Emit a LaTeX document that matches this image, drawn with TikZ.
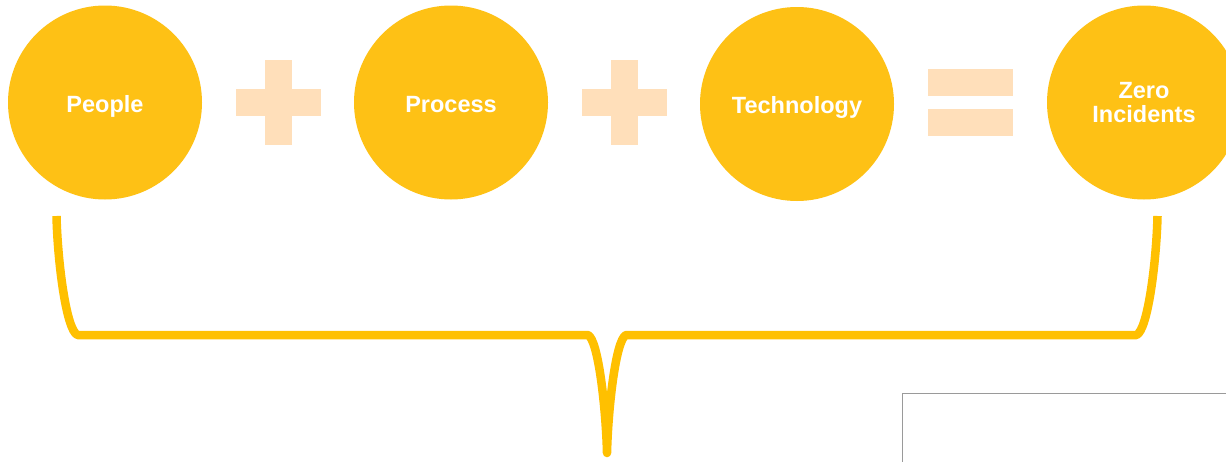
\documentclass[tikz,border=0pt]{standalone}
\usepackage{fontspec}
\setmainfont{Liberation Sans}
\definecolor{discgold}{HTML}{FEC115}
\definecolor{signpeach}{HTML}{FFDFBA}
\definecolor{bracegold}{HTML}{FFC000}
\definecolor{framegrey}{HTML}{9A9A9A}
\begin{document}
\begin{tikzpicture}[x=1pt,y=-1pt,
  disc/.style={circle,fill=discgold,minimum size=194pt,inner sep=0pt,
    text=white,align=center,font=\fontsize{23.5}{24}\selectfont\bfseries},
  oneline/.style={text height=19pt,text depth=0pt},
  sign/.style={fill=signpeach,draw=none},
  bracestroke/.style={draw=bracegold,line width=8.5pt,line join=round}]
\useasboundingbox (0,0) rectangle (1226,461);
\fill[white] (0,0) rectangle (1226,461);

% the four terms of the equation
\node[disc,oneline] (people)  at (105,102.5) {People};
\node[disc,oneline] (process) at (451,102.5) {Process};
\node[disc,oneline] (tech)    at (797,104)   {Technology};
\node[disc] (zero)    at (1144,102.5) {Zero\\Incidents};

% plus signs
\foreach \cx in {278.5,624.5}{
  \fill[sign] (\cx-13.5,60) rectangle (\cx+13.5,145);
  \fill[sign] (\cx-42.5,89) rectangle (\cx+42.5,116);
}
% equals sign
\fill[sign] (928,69) rectangle (1013,96);
\fill[sign] (928,109) rectangle (1013,136);

% brace under the equation
\coordinate (bl) at (56.5,216);
\coordinate (br) at (1157.5,216);
\coordinate (tip) at (607,453);
\draw[bracestroke] (bl) .. controls (57.5,260) and (66,330) .. (77.5,335)
  -- (588,335) .. controls (598.5,340) and (606,410) .. (tip)
  .. controls (608,410) and (615.5,340) .. (626,335)
  -- (1136.5,335) .. controls (1148,330) and (1156.5,260) .. (br);

% frame at lower right
\draw[framegrey,line width=1pt] (902.5,470) -- (902.5,393.5) -- (1230,393.5);
\end{tikzpicture}
\end{document}
